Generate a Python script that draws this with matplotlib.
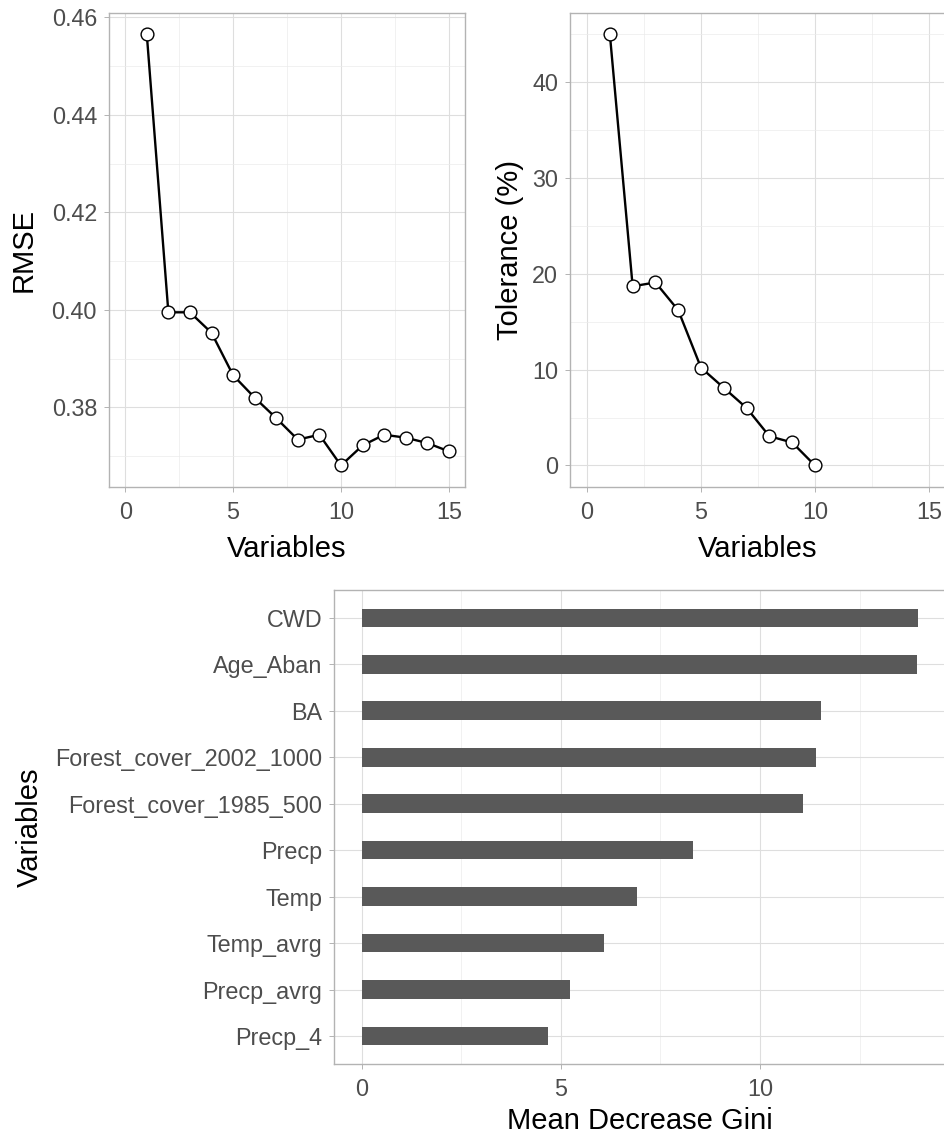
import numpy as np
import matplotlib
matplotlib.use("Agg")
import matplotlib.pyplot as plt
from matplotlib.ticker import MultipleLocator

plt.rcParams['font.family'] = ['Liberation Sans', 'DejaVu Sans']

# RMSE by number of variables
n_vars = list(range(1, 16))
rmse = [0.4565, 0.3995, 0.3995, 0.3953, 0.3866, 0.3820, 0.3778, 0.3734,
        0.3744, 0.3681, 0.3722, 0.3744, 0.3738, 0.3727, 0.3710]

# tolerance (%) by number of variables
tol_vars = list(range(1, 11))
tolerance = [45.0, 18.7, 19.1, 16.2, 10.2, 8.1, 6.0, 3.05, 2.4, 0.0]

# variable importance
var_names = ['CWD', 'Age_Aban', 'BA', 'Forest_cover_2002_1000',
             'Forest_cover_1985_500', 'Precp', 'Temp', 'Temp_avrg',
             'Precp_avrg', 'Precp_4']
gini = [13.97, 13.93, 11.54, 11.40, 11.09, 8.31, 6.92, 6.07, 5.23, 4.67]

GRID = '#DEDEDE'
GRID_MINOR = '#EBEBEB'
BORDER = '#B3B3B3'
TICKTXT = '#4D4D4D'
TICK_FS = 16.8
TITLE_FS = 21


def light_theme(ax):
    ax.set_axisbelow(True)
    for s in ax.spines.values():
        s.set_color(BORDER)
        s.set_linewidth(1.0)
    ax.grid(which='major', color=GRID, lw=0.8)
    ax.grid(which='minor', color=GRID_MINOR, lw=0.5)
    ax.tick_params(which='major', color=BORDER, length=3.6, width=0.7,
                   labelsize=TICK_FS, labelcolor=TICKTXT)
    ax.tick_params(axis='x', pad=6.5)
    ax.tick_params(axis='y', pad=5)
    ax.tick_params(which='minor', length=0)


def expand(lo, hi, f=0.05):
    d = (hi - lo) * f
    return lo - d, hi + d


def line_panel(ax, x, y):
    ax.plot(x, y, color='black', lw=1.7, zorder=2)
    ax.plot(x, y, 'o', ms=9.2, mfc='white', mec='black', mew=1.0, zorder=3)
    ax.set_xlim(expand(0, 15))
    ax.set_ylim(expand(min(y), max(y)))
    ax.xaxis.set_major_locator(MultipleLocator(5))
    ax.xaxis.set_minor_locator(MultipleLocator(2.5))
    light_theme(ax)
    ax.set_xlabel('Variables', fontsize=TITLE_FS, labelpad=8)


fig = plt.figure(figsize=(9.44, 11.35), dpi=100)

ax1 = fig.add_axes([0.1155, 0.5709, 0.3771, 0.4179])
line_panel(ax1, n_vars, rmse)
ax1.yaxis.set_major_locator(MultipleLocator(0.02))
ax1.yaxis.set_minor_locator(MultipleLocator(0.01))
ax1.yaxis.set_major_formatter(lambda v, p: f'{v:.2f}')
ax1.set_ylabel('RMSE', fontsize=TITLE_FS, labelpad=10)

ax2 = fig.add_axes([0.6038, 0.5709, 0.3983, 0.4179])
line_panel(ax2, tol_vars, tolerance)
ax2.yaxis.set_major_locator(MultipleLocator(10))
ax2.yaxis.set_minor_locator(MultipleLocator(5))
ax2.set_ylabel('Tolerance (%)', fontsize=TITLE_FS, labelpad=6)

ax3 = fig.add_axes([0.3538, 0.0626, 0.6483, 0.4176])
pos = np.arange(len(var_names))[::-1]
ax3.barh(pos, gini, height=0.4, color='#595959', zorder=2)
ax3.set_yticks(pos)
ax3.set_yticklabels(var_names)
ax3.set_ylim(-0.6, len(var_names) - 0.4)
ax3.set_xlim(expand(0, max(gini)))
ax3.xaxis.set_major_locator(MultipleLocator(5))
ax3.xaxis.set_minor_locator(MultipleLocator(2.5))
light_theme(ax3)
ax3.set_xlabel('Mean Decrease Gini', fontsize=TITLE_FS, labelpad=4)
ax3.set_ylabel('Variables', fontsize=TITLE_FS, labelpad=8)

fig.savefig('out.png', dpi=100)
